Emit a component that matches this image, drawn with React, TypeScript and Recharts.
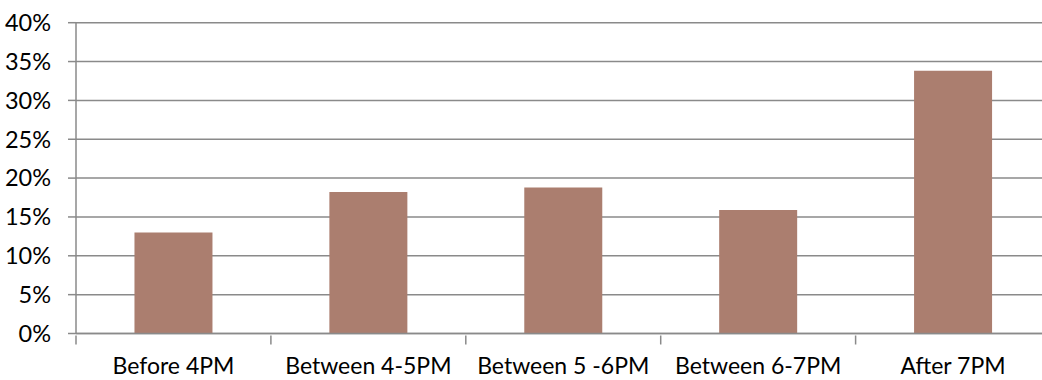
import React from 'react';
import { BarChart, Bar, XAxis, YAxis, CartesianGrid } from 'recharts';

const categories = ['Before 4PM', 'Between 4-5PM', 'Between 5 -6PM', 'Between 6-7PM', 'After 7PM'];
const shares = [13.0, 18.2, 18.8, 15.9, 33.8];
const yTicks = [0, 5, 10, 15, 20, 25, 30, 35, 40];

const data = categories.map((name, i) => ({ name, share: shares[i] }));

const FONT = 'Lato, "Open Sans", sans-serif';
const LINE = '#8a8a8a';

// Category label plus the boundary tick marks Excel-style (between categories, not under them)
const CategoryTick = (props: any) => {
  const { x, y, payload, index, visibleTicksCount } = props;
  const half = payload?.offset ?? 0;
  const last = index === (visibleTicksCount ?? categories.length) - 1;
  return (
    <g>
      <line x1={x - half} x2={x - half} y1={y} y2={y + 9} stroke={LINE} strokeWidth={1.5} />
      {last && <line x1={x + half} x2={x + half} y1={y} y2={y + 9} stroke={LINE} strokeWidth={1.5} />}
      <text x={x} y={y + 22.5} dy="0.71em" textAnchor="middle" fill="#000" fontSize={23} fontFamily={FONT}>
        {payload.value}
      </text>
    </g>
  );
};

export default function App() {
  return (
    <div style={{ position: 'absolute', left: 0, top: 0, width: 1042, height: 380, overflow: 'hidden', background: '#fff' }}>
      <BarChart
        width={1060}
        height={380}
        data={data}
        margin={{ top: 22.7, right: 9.5, left: 0, bottom: 0 }}
        barCategoryGap="30%"
      >
        <CartesianGrid vertical={false} stroke={LINE} strokeWidth={1.5} />
        <XAxis
          dataKey="name"
          height={46.5}
          interval={0}
          axisLine={{ stroke: LINE, strokeWidth: 1.5 }}
          tickLine={false}
          tickSize={0}
          tick={<CategoryTick />}
        />
        <YAxis
          width={76}
          domain={[0, 40]}
          ticks={yTicks}
          interval={0}
          tickFormatter={(v: number) => `${v}%`}
          axisLine={{ stroke: LINE, strokeWidth: 1.5 }}
          tickLine={{ stroke: LINE, strokeWidth: 1.5 }}
          tickSize={8}
          tickMargin={17}
          tick={{ fill: '#000', fontSize: 23.5, fontFamily: FONT }}
        />
        <Bar dataKey="share" fill="#ab7e6f" isAnimationActive={false} />
      </BarChart>
    </div>
  );
}
